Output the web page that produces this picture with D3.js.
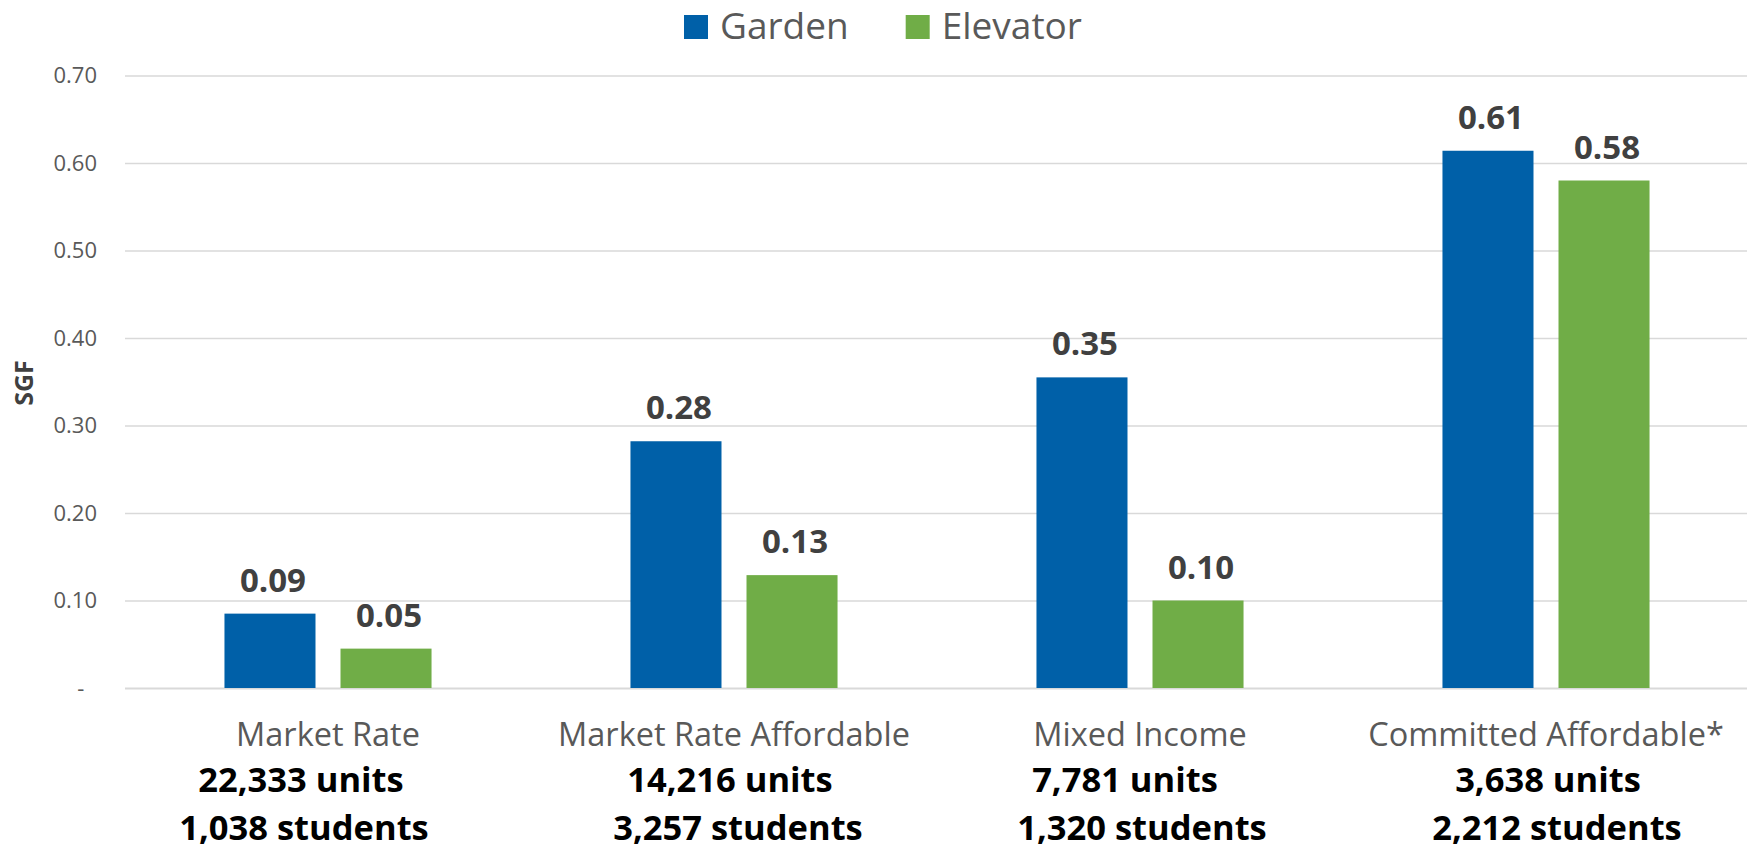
<!DOCTYPE html>
<html>
<head>
<meta charset="utf-8">
<script src="https://cdn.jsdelivr.net/npm/d3@7/dist/d3.min.js"></script>
<style>
  html, body { margin: 0; padding: 0; background: #ffffff; }
  svg { display: block; font-family: "Open Sans", "Noto Sans", sans-serif; }
</style>
</head>
<body>
<svg id="chart" width="1747" height="851"></svg>
<script>
// ---- data ----
const categories = ["Market Rate", "Market Rate Affordable", "Mixed Income", "Committed Affordable*"];
const seriesNames = ["Garden", "Elevator"];
const gardenValues = [0.085, 0.282, 0.355, 0.614];
const elevatorValues = [0.045, 0.129, 0.100, 0.580];
const gardenLabels = ["0.09", "0.28", "0.35", "0.61"];
const elevatorLabels = ["0.05", "0.13", "0.10", "0.58"];
const unitsNotes = ["22,333 units", "14,216 units", "7,781 units", "3,638 units"];
const studentsNotes = ["1,038 students", "3,257 students", "1,320 students", "2,212 students"];
const yTicks = [0, 0.1, 0.2, 0.3, 0.4, 0.5, 0.6, 0.7];
const yTitle = "SGF";

// ---- layout / style (not data) ----
const colors = { Garden: "#0060a8", Elevator: "#70ad47" };
const unitsShift = [-27, -4, -15, 2];
const studentsShift = [-24, 4, 2, 11];
const W = 1747, H = 851;
const plot = { left: 125, right: 1749, top: 75.5, bottom: 688 };

const svg = d3.select("#chart");

const x0 = d3.scaleBand().domain(categories).range([plot.left, plot.right])
  .paddingInner(0.49).paddingOuter(0.245);
const x1 = d3.scaleBand().domain(seriesNames).range([0, x0.bandwidth()])
  .paddingInner(0.2155).paddingOuter(0);
const y = d3.scaleLinear().domain([0, 0.7]).range([plot.bottom, plot.top]);

// gridlines + y axis labels
const yAxis = d3.axisLeft(y).tickValues(yTicks)
  .tickSize(-(W - plot.left))
  .tickPadding(28)
  .tickFormat(d => d === 0 ? "-\u2007" : d3.format(".2f")(d));
const gy = svg.append("g").attr("transform", `translate(${plot.left},0)`).call(yAxis);
gy.select(".domain").remove();
gy.selectAll(".tick line").attr("stroke", "#d9d9d9")
  .attr("stroke-width", d => d === 0 ? 2 : 1.5);
gy.selectAll(".tick text").attr("fill", "#595959")
  .style("font-size", "22px").style("font-family", "'Open Sans', sans-serif");

// y title
svg.append("text")
  .attr("transform", `translate(33,383) rotate(-90)`)
  .attr("text-anchor", "middle")
  .attr("fill", "#404040")
  .style("font-size", "25px").style("font-weight", "700")
  .text(yTitle);

// bars
const rows = categories.map((c, i) => ({
  cat: c,
  vals: [
    { s: "Garden", v: gardenValues[i], label: gardenLabels[i] },
    { s: "Elevator", v: elevatorValues[i], label: elevatorLabels[i] }
  ]
}));

const groups = svg.append("g").selectAll("g").data(rows).join("g")
  .attr("transform", d => `translate(${x0(d.cat)},0)`);

groups.selectAll("rect").data(d => d.vals).join("rect")
  .attr("x", d => x1(d.s))
  .attr("y", d => y(d.v))
  .attr("width", x1.bandwidth())
  .attr("height", d => y(0) - y(d.v))
  .attr("fill", d => colors[d.s]);

groups.selectAll("text.val").data(d => d.vals).join("text")
  .attr("class", "val")
  .attr("x", d => x1(d.s) + x1.bandwidth() / 2 + 3)
  .attr("y", d => y(d.v) - 22)
  .attr("text-anchor", "middle")
  .attr("fill", "#404040")
  .style("font-size", "33px").style("font-weight", "700")
  .text(d => d.label);

// category labels
const xAxis = d3.axisBottom(x0).tickSize(0).tickPadding(0);
const gx = svg.append("g").attr("transform", `translate(0,${plot.bottom})`).call(xAxis);
gx.select(".domain").remove();
gx.selectAll(".tick text")
  .attr("y", 57.5).attr("dy", 0)
  .attr("fill", "#595959")
  .style("font-size", "32.5px").style("font-family", "'Open Sans', sans-serif");

// two-line notes under categories
const noteStyle = sel => sel
  .attr("text-anchor", "middle")
  .attr("fill", "#000000")
  .style("font-size", "34.5px").style("font-weight", "700");

svg.append("g").selectAll("text").data(categories).join("text")
  .call(noteStyle)
  .attr("x", (c, i) => x0(c) + x0.bandwidth() / 2 + unitsShift[i])
  .attr("y", 792)
  .text((c, i) => unitsNotes[i]);

svg.append("g").selectAll("text").data(categories).join("text")
  .call(noteStyle)
  .attr("x", (c, i) => x0(c) + x0.bandwidth() / 2 + studentsShift[i])
  .attr("y", 839.5)
  .text((c, i) => studentsNotes[i]);

// legend
const legend = svg.append("g");
let lx = 684;
seriesNames.forEach(s => {
  legend.append("rect").attr("x", lx).attr("y", 15).attr("width", 24).attr("height", 24)
    .attr("fill", colors[s]);
  const t = legend.append("text").attr("x", lx + 36).attr("y", 39)
    .attr("fill", "#595959").style("font-size", "37px").text(s);
  lx += 36 + t.node().getComputedTextLength() + 57;
});
</script>
</body>
</html>
